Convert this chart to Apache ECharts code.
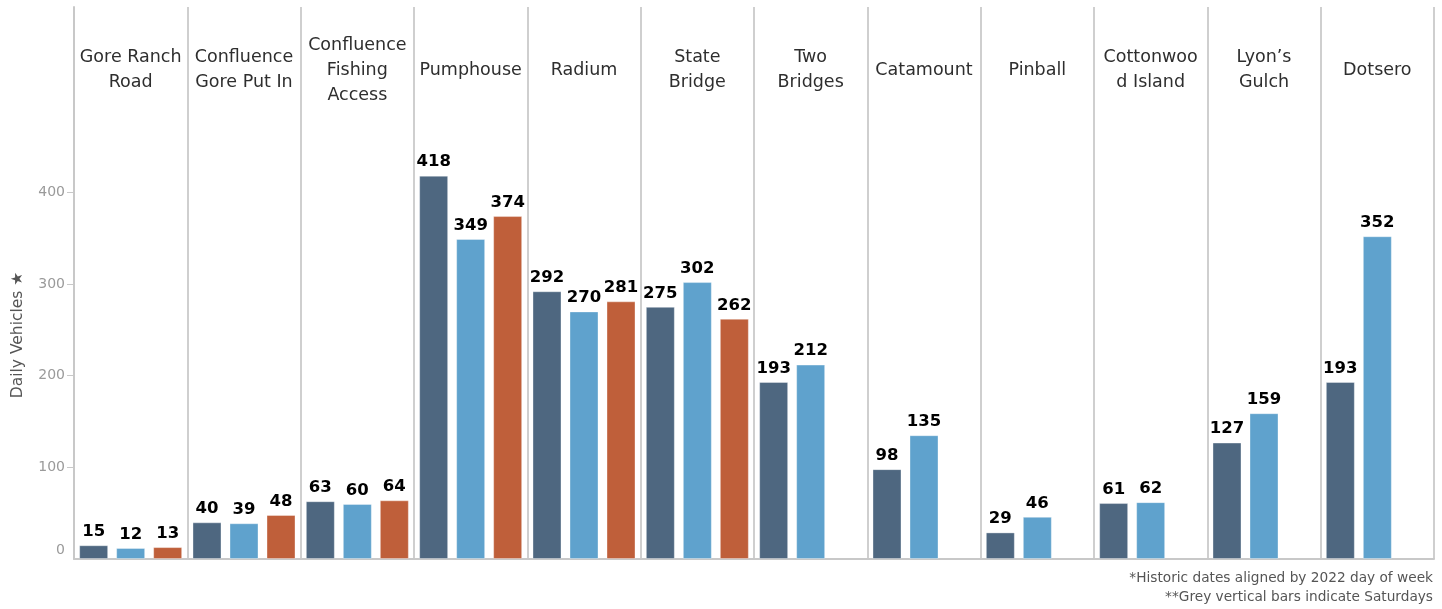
<!DOCTYPE html>
<html>
<head>
<meta charset="utf-8">
<script src="https://cdn.jsdelivr.net/npm/echarts@6/dist/echarts.min.js"></script>
<style>
html,body{margin:0;padding:0;background:#fff;}
#chart{width:1442px;height:609px;}
</style>
</head>
<body>
<div id="chart"></div>
<script>
const sites = ["Gore Ranch\nRoad","Confluence\nGore Put In","Confluence\nFishing\nAccess","Pumphouse","Radium","State\nBridge","Two\nBridges","Catamount","Pinball","Cottonwoo\nd Island","Lyon\u2019s\nGulch","Dotsero"];
const seriesA = [15,40,63,418,292,275,193,98,29,61,127,193];
const seriesB = [12,39,60,349,270,302,212,135,46,62,159,352];
const seriesC = [13,48,64,374,281,262,null,null,null,null,null,null];
const yTicks = [0,100,200,300,400];
const colors = ["#4e6780","#5fa2cd","#bf5f3a"];

const FONT = "DejaVu Sans";
const chart = echarts.init(document.getElementById('chart'), null, {renderer:'canvas'});

function barSeries(name, data, color){
  return {
    name: name, type:'bar', data: data, barWidth: 29, barGap: '27.6%',
    itemStyle:{color: color, borderColor: 'rgba(255,255,255,0.35)', borderWidth: 1},
    label:{show:true, position:'top', distance:5, color:'#000', fontWeight:'bold', fontSize:16.5, fontFamily: FONT},
    animation:false
  };
}

chart.setOption({
  animation:false,
  grid:{left:74, right:8, top:7, bottom:50, containLabel:false},
  xAxis:[
    {type:'category', data: sites, position:'bottom',
     axisLine:{show:true, lineStyle:{color:'#c8c8c8', width:2}},
     axisTick:{show:false}, axisLabel:{show:false},
     splitLine:{show:true, interval:0, lineStyle:{color:'#cfcfcf', width:2}}},
    {type:'category', data: sites, position:'top',
     axisLine:{show:false}, axisTick:{show:false}, splitLine:{show:false},
     axisLabel:{show:true, inside:true, interval:0, margin:63, verticalAlign:'middle', align:'center',
       lineHeight:25, fontSize:17.5, color:'#2e2e2e', fontFamily: FONT}}
  ],
  yAxis:{type:'value', min:0, max:602, interval:100,
    axisLine:{show:true, lineStyle:{color:'#c8c8c8', width:2}},
    axisTick:{show:true, length:7, lineStyle:{color:'#c8c8c8'}, customValues: yTicks.slice(1)},
    axisLabel:{show:true, customValues: yTicks, margin:9, color:'#9a9a9a', fontSize:14, fontFamily: FONT,
      formatter: function(v){ return v === 0 ? '{z|0}' : String(v); },
      rich:{z:{color:'#9a9a9a', fontSize:14, fontFamily: FONT, padding:[0,0,18,0]}}},
    splitLine:{show:false}
  },
  series:[
    barSeries('Series 1', seriesA, colors[0]),
    barSeries('Series 2', seriesB, colors[1]),
    barSeries('Series 3', seriesC, colors[2])
  ],
  graphic:[
    {type:'text', x:18, y:335, rotation:Math.PI/2,
     style:{text:'Daily Vehicles \u2605', fill:'#555', fontSize:15.5, fontFamily: FONT, align:'center', verticalAlign:'middle'}},
    {type:'text', x:1433, y:578,
     style:{text:'*Historic dates aligned by 2022 day of week', fill:'#555', fontSize:13.7, fontFamily: FONT, align:'right', verticalAlign:'middle'}},
    {type:'text', x:1433, y:597,
     style:{text:'**Grey vertical bars indicate Saturdays', fill:'#555', fontSize:13.7, fontFamily: FONT, align:'right', verticalAlign:'middle'}}
  ]
});
</script>
</body>
</html>
